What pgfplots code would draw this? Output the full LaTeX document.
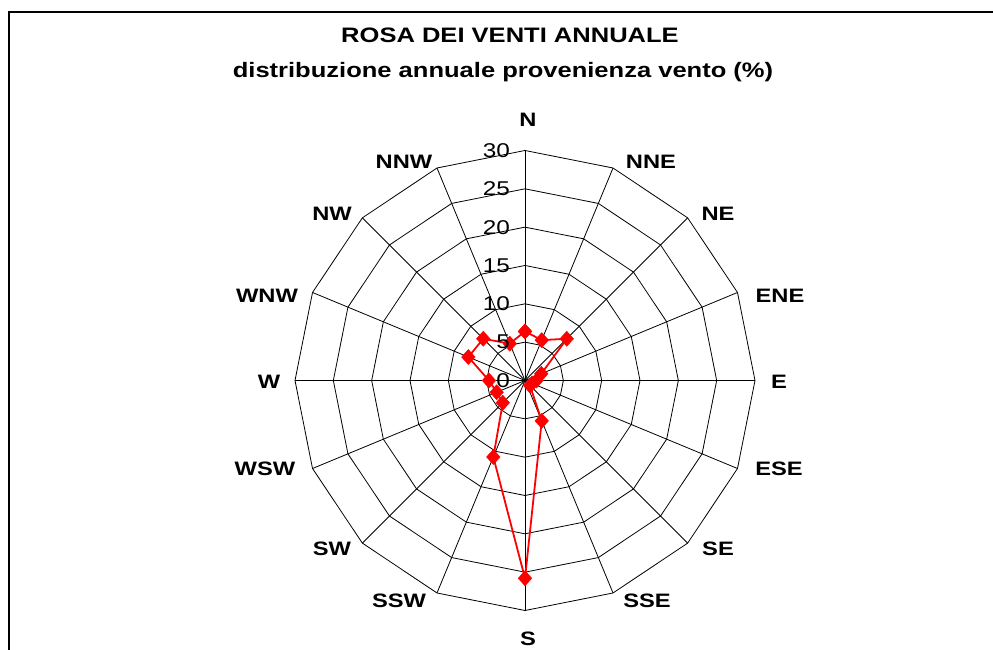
\documentclass[border=0pt]{standalone}
\usepackage{fontspec}
\setmainfont{Liberation Sans}[FakeStretch=1.22]
\usepackage{pgfplots}
\usepackage{pgfplotstable}
\pgfplotsset{compat=1.18}

% angles of the 16 directions (N at 90, clockwise), closed; radii of grid rings
\pgfplotstableread{
ang r5 r10 r15 r20 r25 r30
90 5 10 15 20 25 30
67.5 5 10 15 20 25 30
45 5 10 15 20 25 30
22.5 5 10 15 20 25 30
0 5 10 15 20 25 30
-22.5 5 10 15 20 25 30
-45 5 10 15 20 25 30
-67.5 5 10 15 20 25 30
-90 5 10 15 20 25 30
-112.5 5 10 15 20 25 30
-135 5 10 15 20 25 30
-157.5 5 10 15 20 25 30
-180 5 10 15 20 25 30
-202.5 5 10 15 20 25 30
-225 5 10 15 20 25 30
-247.5 5 10 15 20 25 30
-270 5 10 15 20 25 30
}\ringtab

% wind rose data: angle (deg), frequency (%)
\pgfplotstableread{
ang r
90 6.4
67.5 5.7
45 7.7
22.5 2.3
0 1.5
-22.5 1.0
-45 0.9
-67.5 5.7
-90 25.8
-112.5 10.8
-135 4.1
-157.5 4.0
-180 4.7
-202.5 8.0
-225 7.7
-247.5 5.2
-270 6.4
}\rosedata

\begin{document}
\begin{tikzpicture}[x=1bp,y=1bp]
\useasboundingbox (0,0) rectangle (993,650);
% frame
\draw[line width=1.5bp] (9,-5) -- (9,638) -- (1000,638);
% titles
\node[font=\bfseries\fontsize{21}{25}\selectfont] at (510,615) {ROSA DEI VENTI ANNUALE};
\node[font=\bfseries\fontsize{21}{25}\selectfont] at (503,578) {distribuzione annuale provenienza vento (\%)};

\begin{axis}[
  anchor=center, at={(525bp,269.5bp)},
  x=7.6667bp, y=7.6667bp,
  xmin=-30, xmax=30, ymin=-30, ymax=30,
  hide axis, clip=false,
]
\addplot[black, line width=0.8bp, data cs=polar, no marks] table[x=ang, y=r5] {\ringtab};
\addplot[black, line width=0.8bp, data cs=polar, no marks] table[x=ang, y=r10] {\ringtab};
\addplot[black, line width=0.8bp, data cs=polar, no marks] table[x=ang, y=r15] {\ringtab};
\addplot[black, line width=0.8bp, data cs=polar, no marks] table[x=ang, y=r20] {\ringtab};
\addplot[black, line width=0.8bp, data cs=polar, no marks] table[x=ang, y=r25] {\ringtab};
\addplot[black, line width=0.8bp, data cs=polar, no marks] table[x=ang, y=r30] {\ringtab};
\pgfplotsinvokeforeach{90,67.5,45,22.5,0,-22.5,-45,-67.5,-90,-112.5,-135,-157.5,-180,-202.5,-225,-247.5}{
  \addplot[black, line width=0.8bp, data cs=polar, no marks] coordinates {(#1,0) (#1,30)};
}
\addplot[red, line width=1.8bp, data cs=polar, mark=diamond*, mark size=7.5bp,
  mark options={fill=red, draw=red, solid, xscale=1.2, line width=0.5bp}]
  table[x=ang, y=r] {\rosedata};
\end{axis}

% radial tick labels
\begin{scope}[every node/.style={anchor=east, font=\fontsize{20}{22}\selectfont, inner sep=0pt}]
\node at (510,269.5) {0};
\node at (510,307.8) {5};
\node at (510,346.2) {10};
\node at (510,384.5) {15};
\node at (510,422.8) {20};
\node at (510,461.2) {25};
\node at (510,499.5) {30};
\end{scope}

% direction labels
\begin{scope}[every node/.style={font=\bfseries\fontsize{19.5}{21}\selectfont, inner sep=0pt}]
\node at (528,530) {N};
\node at (651,488.3) {NNE};
\node at (718,435.7) {NE};
\node at (780,354) {ENE};
\node at (779,268.5) {E};
\node at (779,180.7) {ESE};
\node at (718,101) {SE};
\node at (647,49) {SSE};
\node at (528,11) {S};
\node at (399,49) {SSW};
\node at (332,101) {SW};
\node at (265,180.7) {WSW};
\node at (269,268.5) {W};
\node at (267,354) {WNW};
\node at (332,435.7) {NW};
\node at (404,488.3) {NNW};
\end{scope}
\end{tikzpicture}
\end{document}
